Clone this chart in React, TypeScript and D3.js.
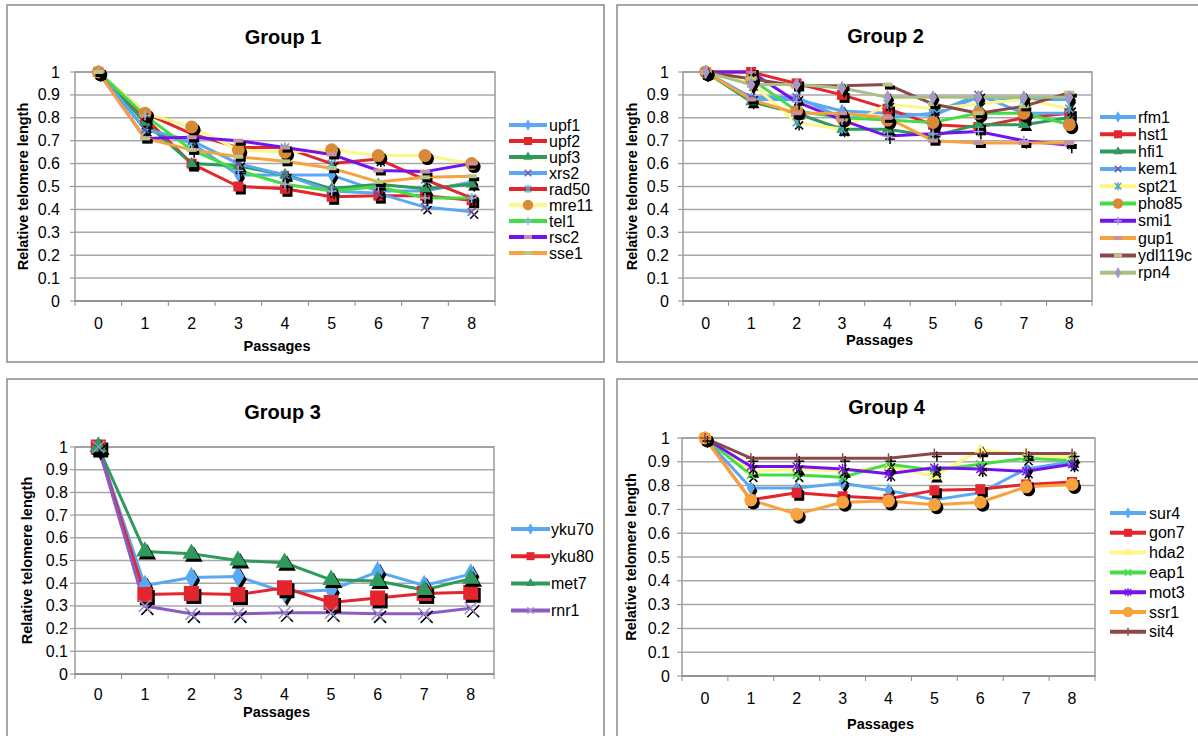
import React from 'react';
import * as d3 from 'd3';

// passages on the x axis, relative length on the y axis
const passages = [0, 1, 2, 3, 4, 5, 6, 7, 8];
const yTicks = [0, 0.1, 0.2, 0.3, 0.4, 0.5, 0.6, 0.7, 0.8, 0.9, 1];

// Group 1
const g1Names = ['upf1', 'upf2', 'upf3', 'xrs2', 'rad50', 'mre11', 'tel1', 'rsc2', 'sse1'];
const upf1 = [1, 0.75, 0.69, 0.55, 0.55, 0.55, 0.48, 0.48, 0.52];
const upf2 = [1, 0.8, 0.6, 0.5, 0.49, 0.455, 0.46, 0.46, 0.44];
const upf3 = [1, 0.78, 0.6, 0.59, 0.55, 0.49, 0.51, 0.49, 0.51];
const xrs2 = [1, 0.75, 0.7, 0.6, 0.55, 0.48, 0.47, 0.41, 0.39];
const rad50 = [1, 0.82, 0.73, 0.67, 0.67, 0.6, 0.62, 0.53, 0.45];
const mre11 = [1, 0.82, 0.76, 0.66, 0.65, 0.66, 0.635, 0.635, 0.6];
const tel1 = [1, 0.81, 0.66, 0.57, 0.51, 0.48, 0.5, 0.45, 0.45];
const rsc2 = [1, 0.71, 0.715, 0.7, 0.67, 0.64, 0.57, 0.565, 0.6];
const sse1 = [1, 0.71, 0.66, 0.63, 0.61, 0.58, 0.52, 0.54, 0.545];

// Group 2
const g2Names = ['rfm1', 'hst1', 'hfi1', 'kem1', 'spt21', 'pho85', 'smi1', 'gup1', 'ydl119c', 'rpn4'];
const rfm1 = [1, 0.88, 0.88, 0.83, 0.82, 0.81, 0.89, 0.88, 0.88];
const hst1 = [1, 1.0, 0.95, 0.9, 0.84, 0.77, 0.76, 0.8, 0.82];
const hfi1 = [1, 0.87, 0.82, 0.75, 0.75, 0.72, 0.77, 0.77, 0.8];
const kem1 = [1, 0.89, 0.89, 0.8, 0.8, 0.82, 0.9, 0.82, 0.82];
const spt21 = [1, 0.95, 0.78, 0.75, 0.86, 0.84, 0.86, 0.88, 0.84];
const pho85 = [1, 0.97, 0.83, 0.8, 0.79, 0.78, 0.82, 0.82, 0.77];
const smi1 = [1, 1.0, 0.87, 0.79, 0.72, 0.73, 0.74, 0.7, 0.68];
const gup1 = [1, 0.88, 0.82, 0.82, 0.8, 0.7, 0.69, 0.69, 0.69];
const ydl119c = [1, 0.97, 0.94, 0.94, 0.945, 0.86, 0.82, 0.85, 0.91];
const rpn4 = [1, 0.945, 0.945, 0.93, 0.89, 0.89, 0.89, 0.89, 0.89];

// Group 3
const g3Names = ['yku70', 'yku80', 'met7', 'rnr1'];
const yku70 = [1, 0.39, 0.425, 0.43, 0.36, 0.37, 0.45, 0.39, 0.44];
const yku80 = [1, 0.35, 0.355, 0.35, 0.38, 0.315, 0.335, 0.355, 0.36];
const met7 = [1, 0.54, 0.53, 0.5, 0.49, 0.415, 0.41, 0.37, 0.42];
const rnr1 = [1, 0.3, 0.265, 0.265, 0.27, 0.27, 0.265, 0.265, 0.29];

// Group 4
const g4Names = ['sur4', 'gon7', 'hda2', 'eap1', 'mot3', 'ssr1', 'sit4'];
const sur4 = [1, 0.79, 0.79, 0.81, 0.78, 0.74, 0.77, 0.87, 0.9];
const gon7 = [1, 0.74, 0.77, 0.755, 0.745, 0.78, 0.785, 0.805, 0.815];
const hda2 = [1, 0.86, 0.87, 0.86, 0.88, 0.84, 0.95, 0.93, 0.92];
const eap1 = [1, 0.845, 0.845, 0.835, 0.89, 0.865, 0.89, 0.915, 0.905];
const mot3 = [1, 0.88, 0.88, 0.87, 0.85, 0.875, 0.87, 0.86, 0.89];
const ssr1 = [1, 0.74, 0.68, 0.73, 0.735, 0.72, 0.73, 0.795, 0.805];
const sit4 = [1, 0.915, 0.915, 0.915, 0.915, 0.935, 0.935, 0.935, 0.935];

const FONT = '"Liberation Sans", Arial, sans-serif';

type Marker = 'diamond' | 'square' | 'triangle' | 'x' | 'star' | 'circle' | 'plus' | 'dash';
type Style = { line: string; mark: Marker; fill: string };

const BLUE = '#5aa8f2';
const RED = '#e3262e';
const DKGREEN = '#2f9a5c';
const YELLOW = '#fff68a';
const GREEN = '#44dd44';
const PURPLE = '#7412ee';
const ORANGE = '#f8a23e';
const BROWN = '#8c4848';
const SAGE = '#a9bf84';

const g1Styles: Style[] = [
  { line: BLUE, mark: 'diamond', fill: BLUE },
  { line: RED, mark: 'square', fill: RED },
  { line: DKGREEN, mark: 'triangle', fill: DKGREEN },
  { line: BLUE, mark: 'x', fill: '#7a5aa8' },
  { line: RED, mark: 'star', fill: '#4aa8c0' },
  { line: YELLOW, mark: 'circle', fill: '#d98a38' },
  { line: GREEN, mark: 'plus', fill: '#9ab0e0' },
  { line: PURPLE, mark: 'dash', fill: '#c890a0' },
  { line: ORANGE, mark: 'dash', fill: '#b8c488' },
];

const g2Styles: Style[] = [
  { line: BLUE, mark: 'diamond', fill: BLUE },
  { line: RED, mark: 'square', fill: RED },
  { line: DKGREEN, mark: 'triangle', fill: DKGREEN },
  { line: BLUE, mark: 'x', fill: '#7a5aa8' },
  { line: YELLOW, mark: 'star', fill: '#4aa8c0' },
  { line: GREEN, mark: 'circle', fill: '#d98a38' },
  { line: PURPLE, mark: 'plus', fill: '#a898e0' },
  { line: ORANGE, mark: 'dash', fill: '#c890a0' },
  { line: BROWN, mark: 'dash', fill: '#b8c488' },
  { line: SAGE, mark: 'diamond', fill: '#a898c8' },
];

const g3Styles: Style[] = [
  { line: BLUE, mark: 'diamond', fill: BLUE },
  { line: RED, mark: 'square', fill: RED },
  { line: DKGREEN, mark: 'triangle', fill: DKGREEN },
  { line: '#8a5cc4', mark: 'x', fill: '#a090d0' },
];

const g4Styles: Style[] = [
  { line: BLUE, mark: 'diamond', fill: BLUE },
  { line: RED, mark: 'square', fill: RED },
  { line: YELLOW, mark: 'triangle', fill: YELLOW },
  { line: GREEN, mark: 'x', fill: GREEN },
  { line: PURPLE, mark: 'star', fill: PURPLE },
  { line: ORANGE, mark: 'circle', fill: ORANGE },
  { line: BROWN, mark: 'plus', fill: BROWN },
];

function MarkerShape({ type, x, y, s, color }: { type: Marker; x: number; y: number; s: number; color: string }) {
  const h = s / 2;
  switch (type) {
    case 'diamond':
      return <path transform={`translate(${x},${y})`} d={d3.symbol(d3.symbolDiamond, s * s * 0.6)()!} fill={color} />;
    case 'triangle':
      return <path transform={`translate(${x},${y})`} d={d3.symbol(d3.symbolTriangle, s * s * 0.6)()!} fill={color} />;
    case 'square':
      return <rect x={x - h} y={y - h} width={s} height={s} fill={color} />;
    case 'circle':
      return <circle cx={x} cy={y} r={h * 1.3} fill={color} />;
    case 'dash':
      return <rect x={x - h} y={y - 2} width={s} height={4} fill={color} />;
    case 'plus':
      return (
        <g stroke={color} strokeWidth={1.5}>
          <line x1={x - h} x2={x + h} y1={y} y2={y} />
          <line x1={x} x2={x} y1={y - h} y2={y + h} />
        </g>
      );
    case 'x':
      return (
        <g stroke={color} strokeWidth={1.5}>
          <line x1={x - h * 0.8} x2={x + h * 0.8} y1={y - h * 0.8} y2={y + h * 0.8} />
          <line x1={x - h * 0.8} x2={x + h * 0.8} y1={y + h * 0.8} y2={y - h * 0.8} />
        </g>
      );
    case 'star':
      return (
        <g stroke={color} strokeWidth={1.5}>
          <line x1={x - h * 0.8} x2={x + h * 0.8} y1={y - h * 0.8} y2={y + h * 0.8} />
          <line x1={x - h * 0.8} x2={x + h * 0.8} y1={y + h * 0.8} y2={y - h * 0.8} />
          <line x1={x} x2={x} y1={y - h} y2={y + h} />
        </g>
      );
  }
  return null;
}

type PanelProps = {
  title: string;
  box: [number, number, number, number];
  plot: { left: number; right: number; top: number; bottom: number };
  titleY: number;
  tickRight: number;
  xLabelY: number;
  passY: number;
  yLabelX: number;
  legend: { x0: number; x1: number; tx: number; y: number; gap: number };
  names: string[];
  series: number[][];
  styles: Style[];
  markSize: number;
};

function Panel(p: PanelProps) {
  const { plot } = p;
  const x = d3.scaleBand<number>().domain(passages).range([plot.left, plot.right]);
  const y = d3.scaleLinear().domain([0, 1]).range([plot.bottom, plot.top]);
  const cx = (d: number) => (x(d) ?? 0) + x.bandwidth() / 2;
  const line = d3.line<number>().x((_, i) => cx(passages[i])).y((v) => y(v));
  const midY = (plot.top + plot.bottom) / 2;

  return (
    <g fontFamily={FONT}>
      <rect x={p.box[0]} y={p.box[1]} width={p.box[2]} height={p.box[3]} fill="white" stroke="#8a8a8a" strokeWidth={1.5} />
      <text x={(plot.left + plot.right) / 2 - 2} y={p.titleY} textAnchor="middle" dominantBaseline="central" fontWeight="bold" fontSize={20}>
        {p.title}
      </text>
      {yTicks.map((t) => (
        <g key={t}>
          {t > 0 && <line x1={plot.left} x2={plot.right} y1={y(t)} y2={y(t)} stroke="#a8a8a8" strokeWidth={1.5} />}
          <line x1={plot.left - 5} x2={plot.left} y1={y(t)} y2={y(t)} stroke="#8a8a8a" />
          <text x={p.tickRight} y={y(t)} textAnchor="end" dominantBaseline="central" fontSize={16}>
            {String(t)}
          </text>
        </g>
      ))}
      <rect x={plot.left} y={plot.top} width={plot.right - plot.left} height={plot.bottom - plot.top} fill="none" stroke="#9a9a9a" strokeWidth={1.5} />
      <line x1={plot.left} x2={plot.right} y1={plot.bottom} y2={plot.bottom} stroke="#8a8a8a" strokeWidth={1.5} />
      {d3.range(passages.length + 1).map((i) => {
        const xx = plot.left + i * x.bandwidth();
        return <line key={i} x1={xx} x2={xx} y1={plot.bottom} y2={plot.bottom + 5} stroke="#8a8a8a" />;
      })}
      {passages.map((d) => (
        <text key={d} x={cx(d)} y={p.xLabelY} textAnchor="middle" dominantBaseline="central" fontSize={16}>
          {d}
        </text>
      ))}
      <text x={(plot.left + plot.right) / 2 - 8} y={p.passY} textAnchor="middle" dominantBaseline="central" fontWeight="bold" fontSize={14.5}>
        Passages
      </text>
      <text
        transform={`translate(${p.yLabelX},${midY}) rotate(-90)`}
        textAnchor="middle"
        dominantBaseline="central"
        fontWeight="bold"
        fontSize={14.5}
      >
        Relative telomere length
      </text>
      {p.series.map((vals, si) => (
        <path key={si} d={line(vals)!} fill="none" stroke={p.styles[si].line} strokeWidth={3} strokeLinejoin="round" />
      ))}
      {p.series.map((vals, si) =>
        vals.map((v, i) => (
          <g key={`${si}-${i}`}>
            <MarkerShape type={p.styles[si].mark} x={cx(passages[i]) + 2.5} y={y(v) + 3} s={p.markSize} color="#000" />
            <MarkerShape type={p.styles[si].mark} x={cx(passages[i])} y={y(v)} s={p.markSize} color={p.styles[si].fill} />
          </g>
        ))
      )}
      {p.names.map((n, i) => {
        const ly = p.legend.y + i * p.legend.gap;
        const st = p.styles[i];
        return (
          <g key={n}>
            <line x1={p.legend.x0} x2={p.legend.x1} y1={ly} y2={ly} stroke={st.line} strokeWidth={4} />
            <MarkerShape type={st.mark} x={(p.legend.x0 + p.legend.x1) / 2} y={ly} s={8} color={st.fill} />
            <text x={p.legend.tx} y={ly} dominantBaseline="central" fontSize={16}>
              {n}
            </text>
          </g>
        );
      })}
    </g>
  );
}

export default function App() {
  return (
    <svg width={1198} height={736} style={{ position: 'absolute', left: 0, top: 0, background: 'white' }}>
      <rect width={1198} height={736} fill="white" />
      <Panel
        title="Group 1"
        box={[7, 5, 597, 357]}
        plot={{ left: 75, right: 495, top: 72, bottom: 301 }}
        titleY={37}
        tickRight={60}
        xLabelY={323}
        passY={346}
        yLabelX={23}
        legend={{ x0: 509, x1: 547, tx: 549, y: 125, gap: 16 }}
        names={g1Names}
        series={[upf1, upf2, upf3, xrs2, rad50, mre11, tel1, rsc2, sse1]}
        styles={g1Styles}
        markSize={10}
      />
      <Panel
        title="Group 2"
        box={[617, 5, 590, 357]}
        plot={{ left: 683, right: 1092, top: 72, bottom: 301 }}
        titleY={36}
        tickRight={669}
        xLabelY={323}
        passY={340}
        yLabelX={632}
        legend={{ x0: 1100, x1: 1136, tx: 1138, y: 117, gap: 17.3 }}
        names={g2Names}
        series={[rfm1, hst1, hfi1, kem1, spt21, pho85, smi1, gup1, ydl119c, rpn4]}
        styles={g2Styles}
        markSize={10}
      />
      <Panel
        title="Group 3"
        box={[7, 379, 597, 360]}
        plot={{ left: 75, right: 494, top: 447, bottom: 674 }}
        titleY={412}
        tickRight={68}
        xLabelY={694}
        passY={712}
        yLabelX={27}
        legend={{ x0: 511, x1: 550, tx: 551, y: 529, gap: 27.2 }}
        names={g3Names}
        series={[yku70, yku80, met7, rnr1]}
        styles={g3Styles}
        markSize={15}
      />
      <Panel
        title="Group 4"
        box={[617, 379, 590, 360]}
        plot={{ left: 682, right: 1095, top: 438, bottom: 676 }}
        titleY={407}
        tickRight={670}
        xLabelY={698}
        passY={724}
        yLabelX={631}
        legend={{ x0: 1110, x1: 1146, tx: 1149, y: 513, gap: 19.8 }}
        names={g4Names}
        series={[sur4, gon7, hda2, eap1, mot3, ssr1, sit4]}
        styles={g4Styles}
        markSize={10}
      />
    </svg>
  );
}
